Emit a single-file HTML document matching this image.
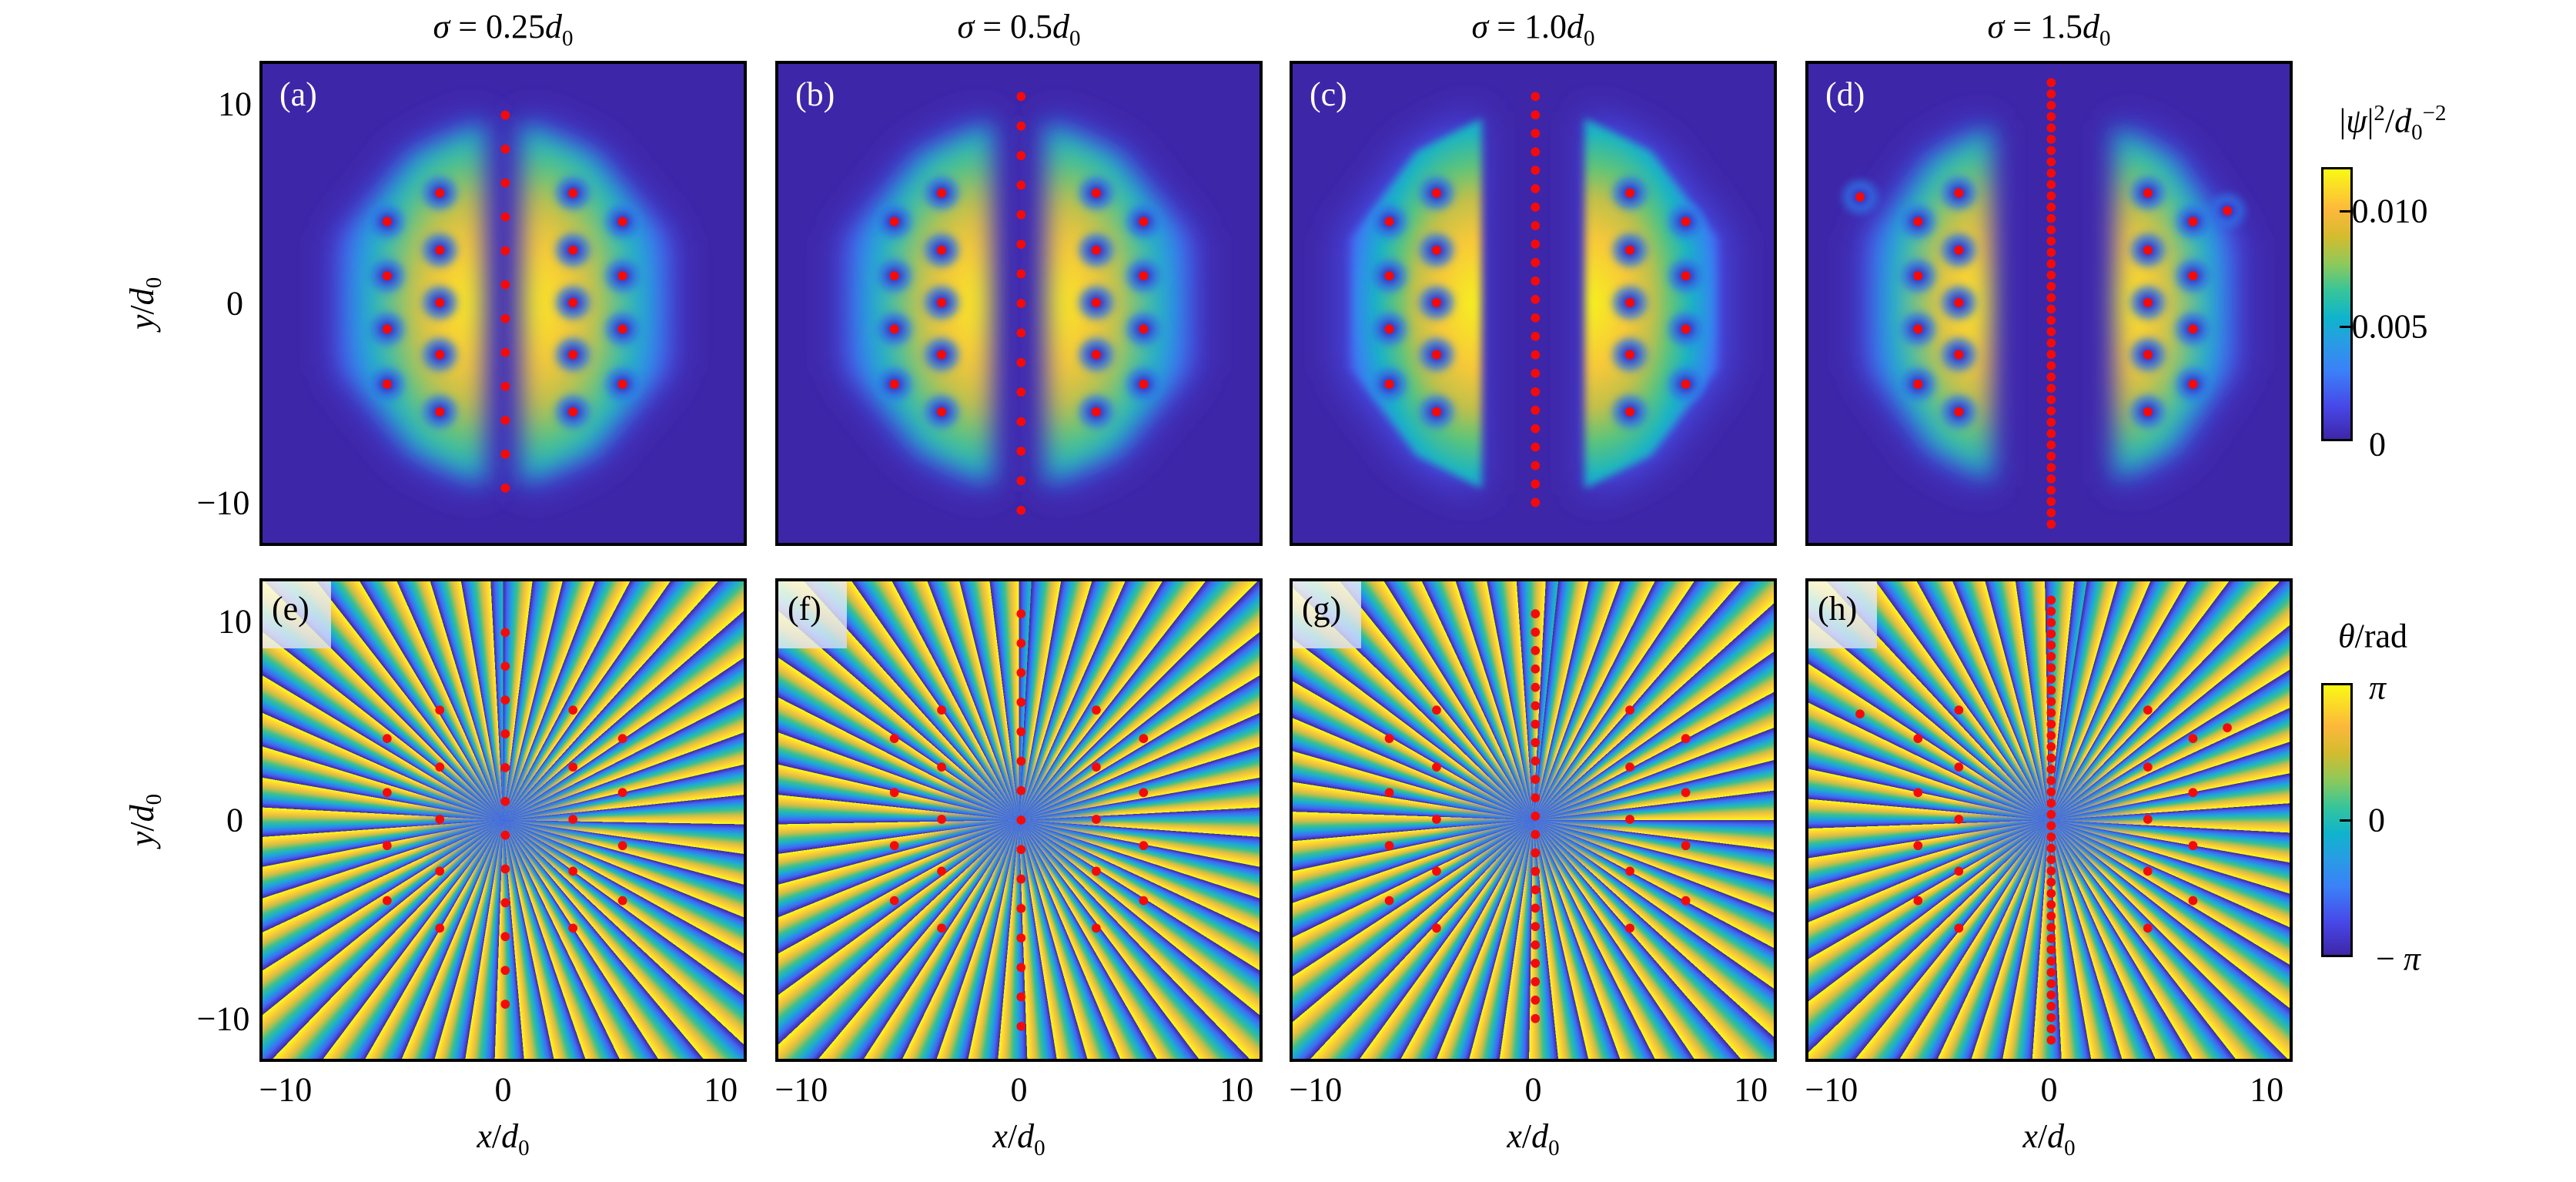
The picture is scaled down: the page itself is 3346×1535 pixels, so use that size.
<!DOCTYPE html>
<html><head><meta charset="utf-8">
<style>
html,body{margin:0;padding:0;background:#fff;}
#root{position:relative;width:3346px;height:1535px;overflow:hidden;font-family:"Liberation Serif",serif;}
.t{position:absolute;font-size:44px;color:#000;white-space:nowrap;transform:translate(-50%,-50%);font-family:"Liberation Serif",serif;}
.i{font-style:italic;}
.pan{position:absolute;box-sizing:border-box;border:4px solid #000;overflow:hidden;}
.lab{position:absolute;left:22px;top:14px;font-size:44px;color:#fff;}
.labb{position:absolute;left:0;top:0;width:89px;height:87px;background:linear-gradient(135deg,rgba(255,255,235,0.85),rgba(210,220,250,0.8));font-size:44px;color:#000;padding:10px 0 0 12px;box-sizing:border-box;}
.cb{position:absolute;box-sizing:border-box;border:3px solid #000;background:linear-gradient(to top,#3e26a8 0%,#4747e8 12%,#3b80f8 25%,#2a9ae6 35%,#0fb4cc 45%,#36c59a 55%,#8ec95a 65%,#d4bb2e 75%,#fdb83c 85%,#f9f914 100%);}
.tk{position:absolute;width:15px;height:3px;background:#000;}
</style></head><body><div id="root"></div>
<script>
const R=document.getElementById('root');
const L=[337,1007,1675,2345],W=633;
const titles=['0.25','0.5','1.0','1.5'];
function t(x,y,h,cls){const d=document.createElement('div');d.className='t '+(cls||'');d.style.left=x+'px';d.style.top=y+'px';d.innerHTML=h;R.appendChild(d);}
const lobes=[[0.9,7.5,9.2,0.9,7.4],[1.3,7.8,9.2,1.3,7.8],[2.4,8.6,9.4,2.4,8.5],[3.1,8.4,9.0,2.7,8.2]];
const dots=[];
function col(x,ys,arr){ys.forEach(y=>arr.push([x,y]));}
const inn=[5.6,2.7,0.04,-2.6,-5.5],out=[4.15,1.4,-1.3,-4.1];
function cen(n,top,bot,arr){for(let k=0;k<n;k++)arr.push([0.1,top-(top-bot)*k/(n-1)]);}
let a=[];cen(12,9.55,-9.37,a);col(-2.95,inn,a);col(-5.4,out,a);col(3.25,inn,a);col(5.56,out,a);dots.push(a);
let b=[];cen(15,10.5,-10.5,b);col(-3.6,inn,b);col(-5.8,out,b);col(3.6,inn,b);col(5.8,out,b);dots.push(b);
let c=[];cen(23,10.5,-10.1,c);col(-4.5,inn,c);col(-6.7,out,c);col(4.5,inn,c);col(7.1,out,c);dots.push(c);
let d=[];cen(40,11.2,-11.2,d);col(-4.2,inn,d);col(-6.1,out,d);d.push([-8.8,5.4]);col(4.6,inn,d);col(6.7,out,d);d.push([8.3,4.7]);dots.push(d);
function dotsSvg(arr,ring){let s='';arr.forEach(p=>{if(ring&&Math.abs(p[0])>0.5)s+=`<ellipse cx="${p[0]}" cy="${-p[1]}" rx="0.8" ry="0.85" fill="#2f78ea" opacity="0.8" filter="url(#bl2)"/><ellipse cx="${p[0]}" cy="${-p[1]}" rx="0.4" ry="0.42" fill="#3e2fc0" filter="url(#bl2)"/>`;});
arr.forEach(p=>{s+=`<ellipse cx="${p[0]}" cy="${-p[1]}" rx="0.21" ry="0.23" fill="#f50a0a"/>`;});return s;}
function lobe(xin,xout,yh){const w=xout-xin;
return `M${xin} ${-yh} L${xin+w*0.5} ${-yh*0.82} L${xout} ${-yh*0.35} L${xout} ${yh*0.35} L${xin+w*0.5} ${yh*0.82} L${xin} ${yh} Z`;}
const stops=`<stop offset="0" stop-color="#f6f020"/><stop offset="0.28" stop-color="#f8c838"/><stop offset="0.46" stop-color="#c0c04a"/><stop offset="0.6" stop-color="#5cc47a"/><stop offset="0.75" stop-color="#18b4c4"/><stop offset="0.9" stop-color="#3288ee"/><stop offset="1" stop-color="#4a5cf2"/>`;
for(let i=0;i<4;i++){
 const x=L[i],cx=x+W/2;
 t(cx,38,'<span class="i">σ</span> = '+titles[i]+'<span class="i">d</span><sub style="font-size:29px">0</sub>');
 const lb=lobes[i];
 const pr=lobe(lb[0],lb[1],lb[2]),pl=lobe(lb[3],lb[4],lb[2]);
 let s=`<svg width="100%" height="100%" viewBox="-11.2 -12.15 22.4 24.3" preserveAspectRatio="none" style="position:absolute;left:0;top:0">
 <defs><filter id="bl${i}" filterUnits="userSpaceOnUse" x="-12" y="-13" width="24" height="26"><feGaussianBlur stdDeviation="0.55"/></filter>
 <filter id="hb${i}" filterUnits="userSpaceOnUse" x="-12" y="-13" width="24" height="26"><feGaussianBlur stdDeviation="0.9"/></filter>
 <filter id="bl2" x="-50%" y="-50%" width="200%" height="200%"><feGaussianBlur stdDeviation="0.2"/></filter>
 <radialGradient id="g${i}" cx="0.05" cy="0.5" r="1" fx="0.05" fy="0.5" gradientTransform="translate(0.05 0.5) scale(1 0.62) translate(-0.05 -0.5)">${stops}</radialGradient></defs>
 <rect x="-12" y="-13" width="24" height="26" fill="#3e26a8"/>
 <path d="${pr}" fill="#4650ec" filter="url(#hb${i})" transform="scale(1.05)"/>
 <path d="${pl}" fill="#4650ec" filter="url(#hb${i})" transform="scale(-1.05,1.05)"/>
 <path d="${pr}" fill="url(#g${i})" filter="url(#bl${i})"/>
 <g transform="scale(-1,1)"><path d="${pl}" fill="url(#g${i})" filter="url(#bl${i})"/></g>
 ${dotsSvg(dots[i],true)}</svg>`;
 const p=document.createElement('div');p.className='pan';p.style.cssText=`left:${x}px;top:79px;width:${W}px;height:630px;background:#3e26a8`;
 p.innerHTML=s+`<div class="lab">(${'abcd'[i]})</div>`;R.appendChild(p);
 const q=document.createElement('div');q.className='pan';q.style.cssText=`left:${x}px;top:751px;width:${W}px;height:628px;background:radial-gradient(ellipse 130px 90px at 50% 50%,rgba(60,100,235,0.85),rgba(60,100,235,0.4) 60%,rgba(60,100,235,0) 100%),repeating-conic-gradient(from ${i*3}deg at 50% 50%,#3e26a8 0deg,#4466f4 1.1deg,#1aa8d8 2.3deg,#3dc08d 3.5deg,#c8bf45 4.7deg,#fbc83a 5.7deg,#f9fb15 7deg)`;
 q.innerHTML=`<svg width="100%" height="100%" viewBox="-11.2 -12.15 22.4 24.3" preserveAspectRatio="none" style="position:absolute;left:0;top:0">${dotsSvg(dots[i],false)}</svg><div class="labb">(${'efgh'[i]})</div>`;
 R.appendChild(q);
 const u=W/22.4;
 [-10,0,10].forEach(v=>t(cx+v*u,1415,v<0?'−10':String(v)));
 t(cx,1479,'<span class="i">x</span>/<span class="i">d</span><sub style="font-size:29px">0</sub>');
}
[[79,630],[751,628]].forEach(([y0,h])=>{const u=h/24.3,cy=y0+h/2;[10,0,-10].forEach(v=>t(v<0?290:305,cy-v*u,v<0?'−10':String(v)));
 const e=document.createElement('div');e.className='t';e.style.left='188px';e.style.top=cy+'px';e.style.transform='translate(-50%,-50%) rotate(-90deg)';e.innerHTML='<span class="i">y</span>/<span class="i">d</span><sub style="font-size:29px">0</sub>';R.appendChild(e);});
[[217,573],[887,1243]].forEach(([a,b])=>{const e=document.createElement('div');e.className='cb';e.style.cssText=`left:3015px;top:${a}px;width:41px;height:${b-a}px`;R.appendChild(e);});
[274,424,1065].forEach(y=>{const k=document.createElement('div');k.className='tk';k.style.left='3039px';k.style.top=(y-1)+'px';R.appendChild(k);});
t(3104,274,'0.010');t(3104,424,'0.005');t(3088,577,'0');
t(3108,160,'|<span class="i">ψ</span>|<sup style="font-size:29px">2</sup>/<span class="i">d</span><sub style="font-size:29px">0</sub><sup style="font-size:29px">−2</sup>');
t(3088,893,'<span class="i">π</span>');t(3087,1065,'0');t(3115,1245,'− <span class="i">π</span>');
t(3082,826,'<span class="i">θ</span>/rad');
</script></body></html>
